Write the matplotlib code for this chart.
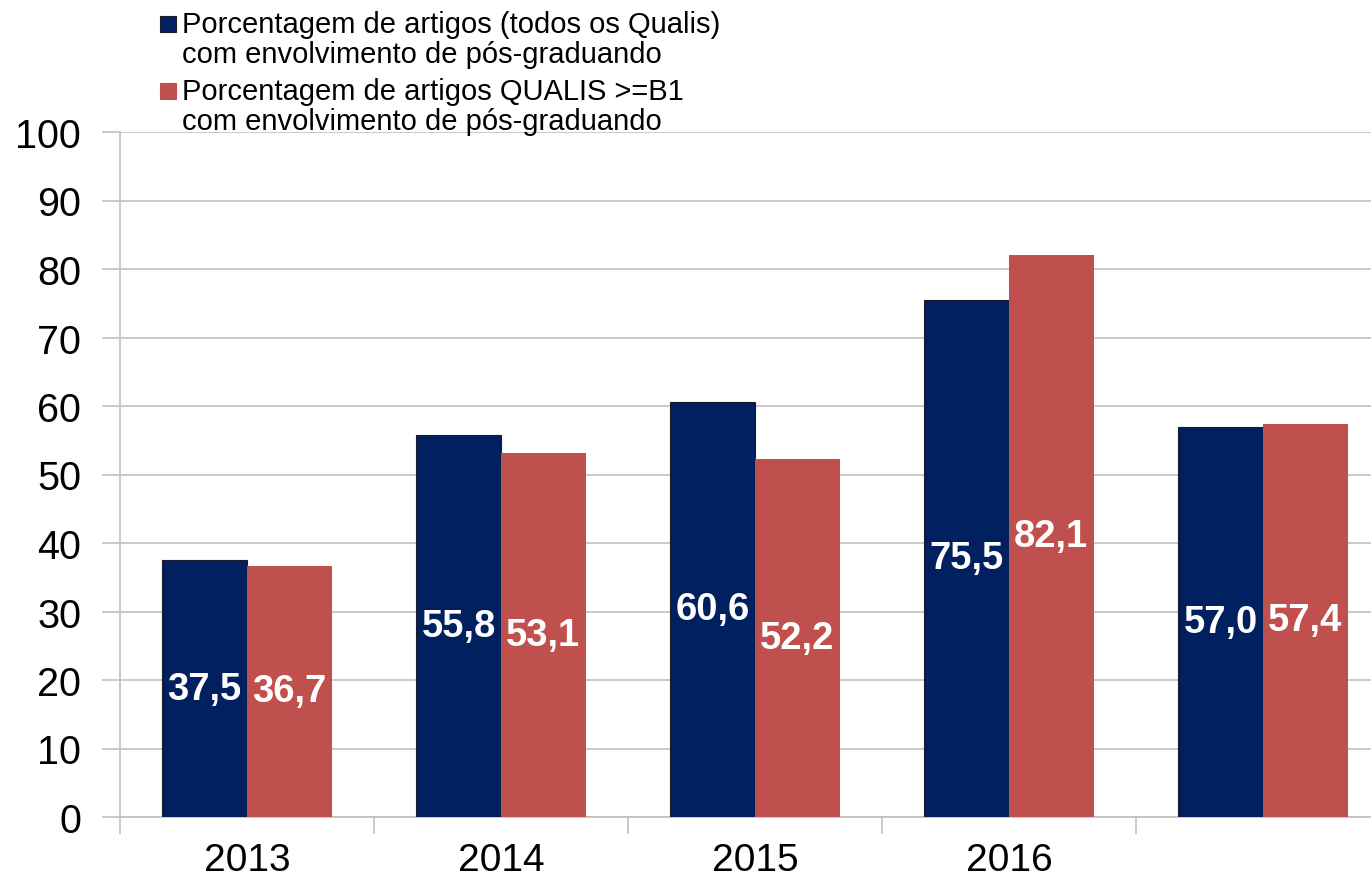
import numpy as np
import matplotlib
matplotlib.use('Agg')
import matplotlib.pyplot as plt
from matplotlib.patches import Rectangle

plt.rcParams['font.family'] = ['Liberation Sans', 'DejaVu Sans']

categories = ['2013', '2014', '2015', '2016', '']
todos = [37.5, 55.8, 60.6, 75.5, 57.0]
b1 = [36.7, 53.1, 52.2, 82.1, 57.4]
labels = ['Porcentagem de artigos (todos os Qualis)\ncom envolvimento de pós-graduando',
          'Porcentagem de artigos QUALIS >=B1\ncom envolvimento de pós-graduando']

BLUE = '#002060'
RED = '#C0504D'
GRID = '#C0C0C0'
EDGE = '#1a1a2a'

W, H = 1371, 879
fig = plt.figure(figsize=(W / 100, H / 100), dpi=100)
# plot area: left 120px, y=0 at 818px, y=100 at 133px, group width ~254px
left, bottom = 120 / W, (H - 818) / H
ax = fig.add_axes([left, bottom, 5 * 254 / W, 685 / H])

x = np.arange(len(categories))
bw = 1 / 3
ax.bar(x - bw / 2, todos, bw, color=BLUE, edgecolor=EDGE, linewidth=0.8,
       zorder=3)
ax.bar(x + bw / 2, b1, bw, color=RED, linewidth=0, zorder=3)

for xs, vals in ((x - bw / 2, todos), (x + bw / 2, b1)):
    for xi, v in zip(xs, vals):
        ax.text(xi, v / 2, '{:.1f}'.format(v).replace('.', ','),
                color='white', fontsize=27.5, fontweight='bold',
                ha='center', va='center', zorder=4)

ax.set_xlim(-0.5, len(categories) - 0.5)
ax.set_ylim(0, 100)
ax.set_yticks(np.arange(0, 101, 10))
ax.yaxis.grid(True, color=GRID, linewidth=1.2, zorder=0)
ax.tick_params(axis='y', labelsize=28.5, length=13, color=GRID, width=1.2,
               pad=15)

ax.set_xticks(np.arange(-0.5, len(categories) - 0.4, 1))
ax.set_xticklabels([])
ax.set_xticks(x, minor=True)
ax.set_xticklabels(categories, minor=True)
ax.tick_params(axis='x', which='major', length=12, color=GRID, width=1.2,
               direction='out')
ax.tick_params(axis='x', which='minor', length=0, labelsize=28, pad=18)

for s in ['top', 'right']:
    ax.spines[s].set_visible(False)
for s in ['left', 'bottom']:
    ax.spines[s].set_color(GRID)
    ax.spines[s].set_linewidth(1.2)

# legend drawn by hand: square sits beside the first line of each entry
for i, (lab, col) in enumerate(zip(labels, [BLUE, RED])):
    y0 = 25 + i * 67
    fig.patches.append(Rectangle((160 / W, 1 - (y0 + 8) / H), 16 / W, 16 / H,
                                 transform=fig.transFigure, facecolor=col,
                                 edgecolor=EDGE if i == 0 else col,
                                 linewidth=0.8))
    for j, line in enumerate(lab.split('\n')):
        fig.text(182 / W, 1 - (y0 + 30 * j) / H, line, fontsize=21,
                 ha='left', va='center')

fig.savefig('out.png', dpi=100)
